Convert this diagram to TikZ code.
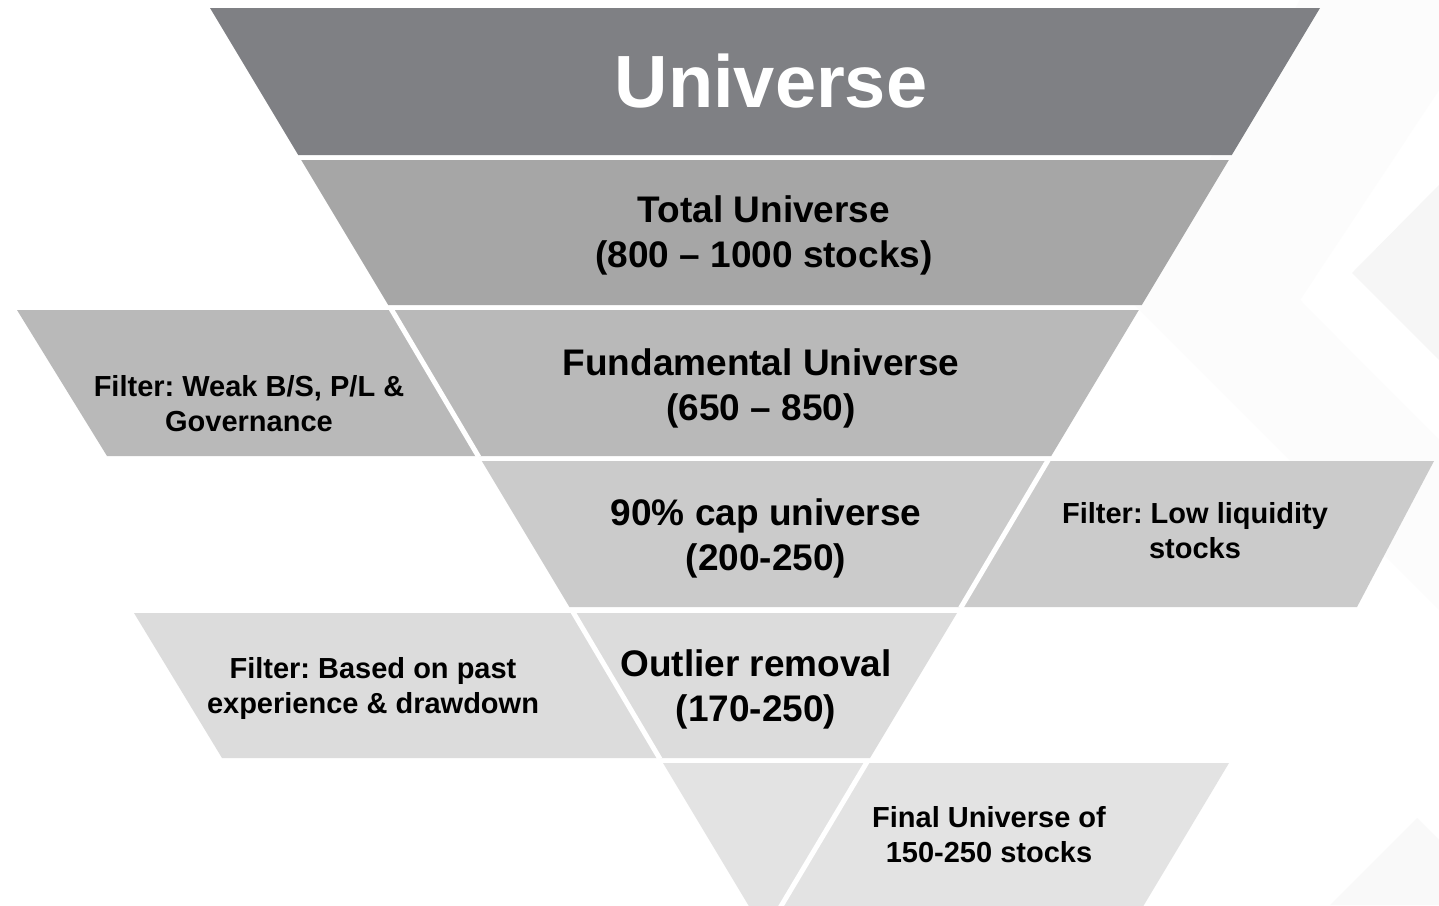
\documentclass[tikz,border=0pt]{standalone}
\usepackage{fontspec}
\setmainfont{Liberation Sans}
\frenchspacing
\definecolor{tierA}{HTML}{7F8084}
\definecolor{tierB}{HTML}{A6A6A6}
\definecolor{tierC}{HTML}{B9B9B9}
\definecolor{tierD}{HTML}{CBCBCB}
\definecolor{tierE}{HTML}{DCDCDC}
\definecolor{tierF}{HTML}{E3E3E3}
\definecolor{markA}{HTML}{FCFCFC}
\definecolor{markB}{HTML}{F6F6F6}
\definecolor{markC}{HTML}{F9F9F9}
\begin{document}
\begin{tikzpicture}[x=1pt,y=-1pt,
  gapline/.style={draw=white,line width=5pt},
  title/.style={text=white,inner sep=0,font=\bfseries\fontsize{74}{80}\selectfont},
  mainlbl/.style={align=center,inner sep=0,font=\bfseries\fontsize{37}{45}\selectfont},
  sidelbl/.style={align=center,inner sep=0,font=\bfseries\fontsize{29}{35}\selectfont}]
\useasboundingbox (0,0) rectangle (1439,905);
\clip (0,0) rectangle (1439,905);
\fill[white] (0,0) rectangle (1439,905);

% faint background chevrons
\fill[markA] (1300,0) -- (1130,300) -- (1439,610) -- (1439,440) -- (1300,300) -- (1439,90) -- (1439,0) -- cycle;
\fill[markB] (1352,273) -- (1439,185) -- (1439,360) -- cycle;
\fill[markC] (1417,818) -- (1439,840) -- (1439,905) -- (1330,905) -- cycle;

% funnel tiers
\fill[tierA] (210,8) -- (1320,8) -- (1231.8,155) -- (298.2,155) -- cycle;
\fill[tierB] (301.2,160) -- (1228.8,160) -- (1141.8,305) -- (388.2,305) -- cycle;
\fill[tierC] (391.2,310) -- (1138.8,310) -- (1051.2,456) -- (478.8,456) -- cycle;
\fill[tierD] (481.8,461) -- (1048.2,461) -- (960.6,607) -- (569.4,607) -- cycle;
\fill[tierE] (573,613) -- (957,613) -- (870,758) -- (660,758) -- cycle;
\fill[tierF] (663,763) -- (867,763) -- (766.8,930) -- (763.2,930) -- cycle;

% filter boxes beside the funnel
\fill[tierC] (17,310) -- (391.2,310) -- (478.8,456) -- (107,456) -- cycle;
\fill[tierD] (1048.2,461) -- (1434,461) -- (1357,607) -- (960.6,607) -- cycle;
\fill[tierE] (134,613) -- (573,613) -- (660,758) -- (222,758) -- cycle;
\fill[tierF] (867,763) -- (1229,763) -- (1129,930) -- (766.8,930) -- cycle;

% white seams between funnel and filter boxes
\draw[gapline] (391.2,309) -- (478.8,457);
\draw[gapline] (1048.2,460) -- (960.6,608);
\draw[gapline] (573,612) -- (660,759);
\draw[gapline] (867,762) -- (766.8,930);

% labels
\node[title] (universe) at (771,81) {Universe};
\node[mainlbl] (total) at (764,235) {Total Universe\\(800 – 1000 stocks)};
\node[mainlbl] (fund) at (761,388) {Fundamental Universe\\(650 – 850)};
\node[mainlbl] (cap) at (766,538) {90\% cap universe\\(200-250)};
\node[mainlbl] (outlier) at (756,689) {Outlier removal\\(170-250)};
\node[sidelbl] (weak) at (249,404) {Filter: Weak B/S, P/L \&\\Governance};
\node[sidelbl] (liquid) at (1195,531) {Filter: Low liquidity\\stocks};
\node[sidelbl] (past) at (373,688) {Filter: Based on past\\experience \& drawdown};
\node[sidelbl] (final) at (989,835) {Final Universe of\\150-250 stocks};
\end{tikzpicture}
\end{document}
